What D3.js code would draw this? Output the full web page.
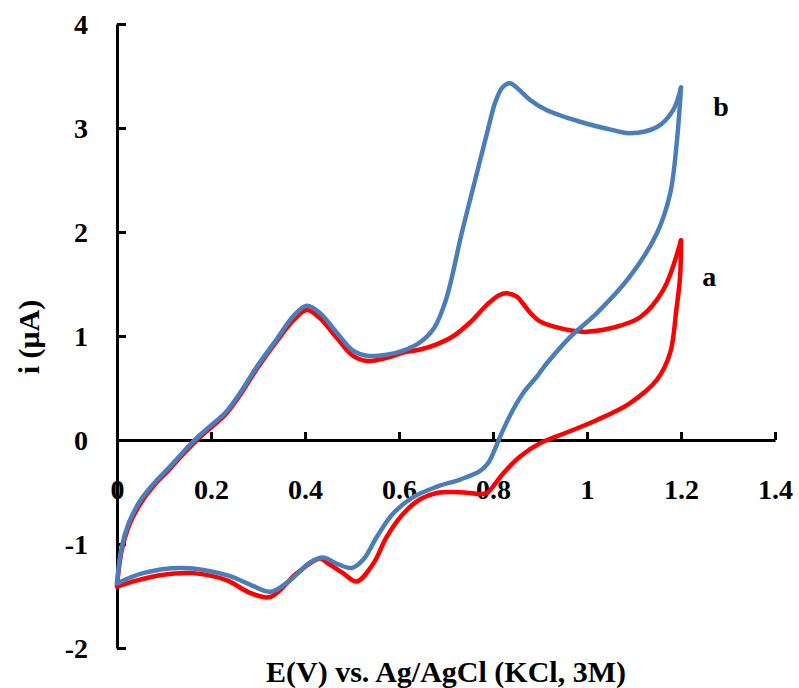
<!DOCTYPE html>
<html>
<head>
<meta charset="utf-8">
<script src="https://cdn.jsdelivr.net/npm/d3@7"></script>
<style>
  html, body { margin: 0; padding: 0; background: #ffffff; }
  svg { display: block; }
  text { font-family: "Liberation Serif", "Times New Roman", serif; font-weight: bold; fill: #000; }
</style>
</head>
<body>
<svg id="chart" width="799" height="688"></svg>
<script>
// ---- Data ----
const xTicks = [0, 0.2, 0.4, 0.6, 0.8, 1.0, 1.2, 1.4];
const xTickLabels = ["0", "0.2", "0.4", "0.6", "0.8", "1", "1.2", "1.4"];
const yTicks = [-2, -1, 0, 1, 2, 3, 4];
const yTickLabels = ["-2", "-1", "0", "1", "2", "3", "4"];

// Curve a (red): forward (anodic) scan
const aFwdE = [0, 0.01, 0.025, 0.05, 0.08, 0.11, 0.14, 0.17, 0.2, 0.23, 0.26, 0.3, 0.34, 0.375, 0.404, 0.432, 0.468, 0.502, 0.532, 0.574, 0.609, 0.645, 0.68, 0.716, 0.751, 0.787, 0.812, 0.829, 0.85, 0.864, 0.88, 0.9, 0.93, 0.97, 1.0, 1.055, 1.113, 1.162, 1.2];
const aFwdI = [-1.40, -1.06, -0.83, -0.61, -0.43, -0.29, -0.14, 0.0, 0.12, 0.24, 0.42, 0.70, 0.95, 1.15, 1.25, 1.17, 0.98, 0.81, 0.76, 0.79, 0.84, 0.87, 0.92, 1.0, 1.13, 1.30, 1.39, 1.41, 1.38, 1.31, 1.22, 1.14, 1.09, 1.05, 1.04, 1.08, 1.18, 1.44, 1.92];
// Curve a (red): reverse (cathodic) scan
const aRevE = [1.2, 1.198, 1.19, 1.177, 1.149, 1.09, 1.02, 0.95, 0.905, 0.857, 0.822, 0.803, 0.787, 0.77, 0.751, 0.716, 0.68, 0.645, 0.609, 0.574, 0.545, 0.51, 0.481, 0.447, 0.432, 0.383, 0.326, 0.283, 0.234, 0.162, 0.091, 0.043, 0];
const aRevI = [1.92, 1.57, 1.25, 0.84, 0.58, 0.35, 0.19, 0.06, -0.02, -0.16, -0.32, -0.43, -0.51, -0.52, -0.51, -0.50, -0.51, -0.57, -0.71, -0.93, -1.19, -1.36, -1.28, -1.18, -1.14, -1.28, -1.51, -1.47, -1.35, -1.28, -1.30, -1.35, -1.41];

// Curve b (blue): forward scan
const bFwdE = [0, 0.01, 0.025, 0.05, 0.08, 0.11, 0.14, 0.17, 0.2, 0.23, 0.26, 0.3, 0.34, 0.375, 0.404, 0.432, 0.468, 0.502, 0.532, 0.574, 0.609, 0.645, 0.675, 0.70, 0.734, 0.762, 0.79, 0.805, 0.82, 0.836, 0.855, 0.879, 0.915, 0.985, 1.055, 1.091, 1.149, 1.183, 1.2];
const bFwdI = [-1.37, -1.03, -0.80, -0.58, -0.41, -0.27, -0.12, 0.02, 0.14, 0.26, 0.44, 0.72, 0.97, 1.19, 1.29, 1.22, 1.03, 0.86, 0.81, 0.82, 0.86, 0.94, 1.08, 1.35, 2.0, 2.5, 3.0, 3.25, 3.39, 3.43, 3.37, 3.27, 3.17, 3.06, 2.98, 2.95, 3.01, 3.17, 3.39];
// Curve b (blue): reverse scan
const bRevE = [1.2, 1.191, 1.177, 1.149, 1.091, 1.021, 0.964, 0.915, 0.895, 0.864, 0.845, 0.828, 0.815, 0.803, 0.79, 0.772, 0.73, 0.68, 0.63, 0.587, 0.553, 0.524, 0.5, 0.468, 0.438, 0.41, 0.368, 0.326, 0.283, 0.234, 0.14, 0.055, 0];
const bRevI = [3.39, 2.86, 2.37, 1.99, 1.57, 1.22, 0.99, 0.74, 0.62, 0.45, 0.31, 0.16, 0.03, -0.10, -0.22, -0.30, -0.38, -0.45, -0.55, -0.71, -0.93, -1.15, -1.23, -1.19, -1.13, -1.18, -1.35, -1.46, -1.39, -1.30, -1.23, -1.28, -1.38];

const seriesLabels = ["a", "b"];

// ---- Layout ----
const svg = d3.select("#chart");
const x = d3.scaleLinear().domain([0, 1.4]).range([117, 775]);
const y = d3.scaleLinear().domain([-2, 4]).range([648, 24]);

const zip = (E, I) => E.map((e, k) => [e, I[k]]);
const line = d3.line()
  .x(d => x(d[0]))
  .y(d => y(d[1]))
  .curve(d3.curveCatmullRom.alpha(0.5));

// x axis (at i = 0), ticks pointing up
const xAxis = d3.axisBottom(x)
  .tickValues(xTicks)
  .tickFormat((d, k) => xTickLabels[k])
  .tickSizeInner(-8)
  .tickSizeOuter(0)
  .tickPadding(39);

// y axis (at E = 0), ticks pointing right
const yAxis = d3.axisLeft(y)
  .tickValues(yTicks)
  .tickFormat((d, k) => yTickLabels[k])
  .tickSizeInner(-9)
  .tickSizeOuter(0)
  .tickPadding(29);

const gx = svg.append("g")
  .attr("transform", `translate(0,${y(0)})`)
  .call(xAxis);
gx.selectAll("text").style("font-size", "28px").attr("font-family", null);

const gy = svg.append("g")
  .attr("transform", `translate(${x(0)},0)`)
  .call(yAxis);
gy.selectAll("text").style("font-size", "28px").attr("font-family", null).attr("dy", "0.34em");

[gx, gy].forEach(g => {
  g.selectAll("path.domain").attr("stroke", "#000").attr("stroke-width", 3);
  g.selectAll(".tick line").attr("stroke", "#000").attr("stroke-width", 3);
});
gy.select("path.domain").raise();

// Curves
const curves = svg.append("g").attr("fill", "none").attr("stroke-width", 4.5)
  .attr("stroke-linejoin", "round").attr("stroke-linecap", "round");
curves.append("path").attr("d", line(zip(aFwdE, aFwdI))).attr("stroke", "#ff0000");
curves.append("path").attr("d", line(zip(aRevE, aRevI))).attr("stroke", "#ff0000");
curves.append("path").attr("d", line(zip(bFwdE, bFwdI))).attr("stroke", "#4a7ebb");
curves.append("path").attr("d", line(zip(bRevE, bRevI))).attr("stroke", "#4a7ebb");

// Series labels
svg.append("text").attr("x", x(1.26)).attr("y", y(1.48)).attr("text-anchor", "middle")
  .style("font-size", "28px").text(seriesLabels[0]);
svg.append("text").attr("x", x(1.285)).attr("y", y(3.12)).attr("text-anchor", "middle")
  .style("font-size", "28px").text(seriesLabels[1]);

// Axis titles
svg.append("text")
  .attr("transform", `translate(39,337) rotate(-90)`)
  .attr("text-anchor", "middle")
  .style("font-size", "30px")
  .text("i (μA)");

svg.append("text")
  .attr("x", 446).attr("y", 682)
  .attr("text-anchor", "middle")
  .style("font-size", "30px")
  .text("E(V) vs. Ag/AgCl (KCl, 3M)");
</script>
</body>
</html>
